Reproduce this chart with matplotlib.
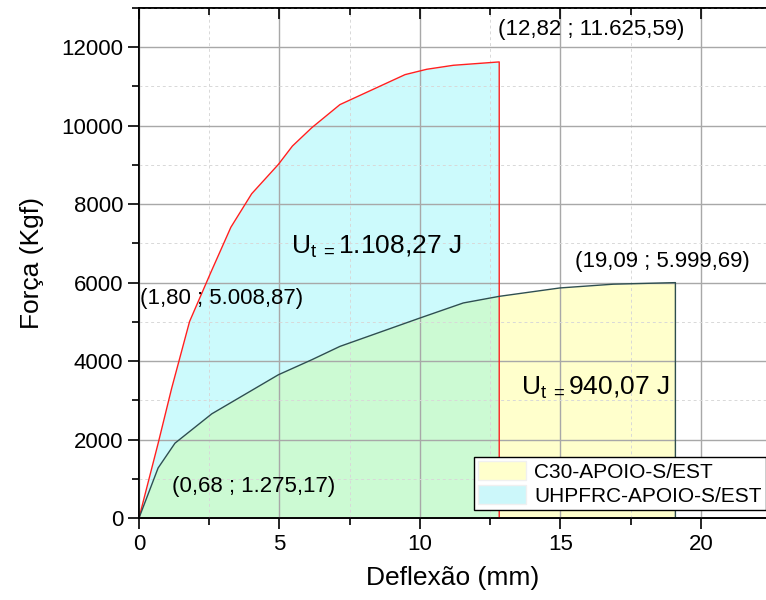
import matplotlib
matplotlib.use("Agg")
import matplotlib.pyplot as plt
from matplotlib.ticker import MultipleLocator
from matplotlib.patches import Patch

plt.rcParams['font.family'] = ['Liberation Sans', 'DejaVu Sans']
plt.rcParams['mathtext.fontset'] = 'custom'
plt.rcParams['mathtext.rm'] = 'Liberation Sans'
plt.rcParams['mathtext.it'] = 'Liberation Sans'

# Curva UHPFRC (deflexão mm, força kgf)
uhp_x = [0, 0.68, 1.16, 1.80, 2.55, 3.27, 4.01, 4.96, 5.46, 6.15, 7.15, 9.47, 10.24, 11.19, 12.82]
uhp_y = [0, 1900, 3300, 5008.87, 6250, 7412, 8265, 9013, 9481, 9949, 10537, 11302, 11438, 11540, 11625.59]

# Curva C30
c30_x = [0, 0.68, 1.28, 2.59, 4.96, 6.15, 7.15, 10.0, 11.54, 12.82, 14.98, 16.88, 19.09]
c30_y = [0, 1275.17, 1907, 2655, 3651, 4034, 4374, 5098, 5481, 5650, 5864, 5960, 5999.69]

leg_labels = ['C30-APOIO-S/EST', 'UHPFRC-APOIO-S/EST']

fig = plt.figure(figsize=(7.66, 6.0), dpi=100)
ax = fig.add_axes([139/766, 1-518/600, 628/766, 510/600])

# areas preenchidas (sobreposição fica verde)
ax.fill_between(c30_x + [c30_x[-1]], c30_y + [0], color='#ffff00', alpha=0.2, lw=0, zorder=1)
ax.fill_between(uhp_x + [uhp_x[-1]], uhp_y + [0], color='#00e6f0', alpha=0.2, lw=0, zorder=1)

ax.plot(uhp_x + [uhp_x[-1]], uhp_y + [0], color='#ff2020', lw=1, zorder=4)
ax.plot(c30_x + [c30_x[-1]], c30_y + [0], color='#2f4f4f', lw=1, zorder=4)

ax.set_xlim(0, 22.35)
ax.set_ylim(0, 13000)
ax.xaxis.set_major_locator(MultipleLocator(5))
ax.xaxis.set_minor_locator(MultipleLocator(2.5))
ax.yaxis.set_major_locator(MultipleLocator(2000))
ax.yaxis.set_minor_locator(MultipleLocator(1000))

ax.grid(True, which='major', color='#a8a8a8', lw=1, zorder=3)
ax.grid(True, which='minor', color='#d8d8d8', lw=0.7, ls=(0, (3, 3)), zorder=3)
ax.set_axisbelow(False)

ax.tick_params(which='both', direction='out', labelsize=16, width=1.2, top=False, right=False)
ax.tick_params(which='major', length=8)
ax.tick_params(which='minor', length=5)

# eixo de cima só com ticks para dentro
axt = ax.twiny()
axt.set_xlim(ax.get_xlim())
axt.xaxis.set_major_locator(MultipleLocator(5))
axt.xaxis.set_minor_locator(MultipleLocator(2.5))
axt.tick_params(which='both', direction='in', labeltop=False, width=1.2)
axt.tick_params(which='major', length=8)
axt.tick_params(which='minor', length=5)
for s in list(ax.spines.values()) + list(axt.spines.values()):
    s.set_linewidth(1.2)

ax.set_xlabel('Deflexão (mm)', fontsize=19, labelpad=8)
ax.set_ylabel('Força (Kgf)', fontsize=19, labelpad=12)

fs = 16
ax.text(12.78, 12460, '(12,82 ; 11.625,59)', fontsize=fs, va='center', zorder=6)
ax.text(15.52, 6536, '(19,09 ; 5.999,69)', fontsize=fs, va='center', zorder=6)
ax.text(0.03, 5591, '(1,80 ; 5.008,87)', fontsize=fs, va='center', zorder=6)
ax.text(1.17, 791, '(0,68 ; 1.275,17)', fontsize=fs, va='center', zorder=6)
ax.text(5.41, 6919, r'U$_{\mathrm{t\ =}}$1.108,27 J', fontsize=19, va='center', zorder=6)
ax.text(13.6, 3319, r'U$_{\mathrm{t\ =}}$940,07 J', fontsize=19, va='center', zorder=6)

handles = [Patch(facecolor='#ffffcc', edgecolor='#f0f0f0'),
           Patch(facecolor='#ccf7fa', edgecolor='#f0f0f0')]
leg = ax.legend(handles, leg_labels, loc='lower left', bbox_to_anchor=(474/766, 1-510/600),
                bbox_transform=fig.transFigure, borderaxespad=0, fontsize=15,
                fancybox=False, framealpha=1, edgecolor='black', handlelength=2.3,
                handleheight=1.05, labelspacing=0.15, borderpad=0.2, handletextpad=0.4)
leg.get_frame().set_linewidth(1)
leg.set_zorder(7)

fig.savefig('out.png', dpi=100)
